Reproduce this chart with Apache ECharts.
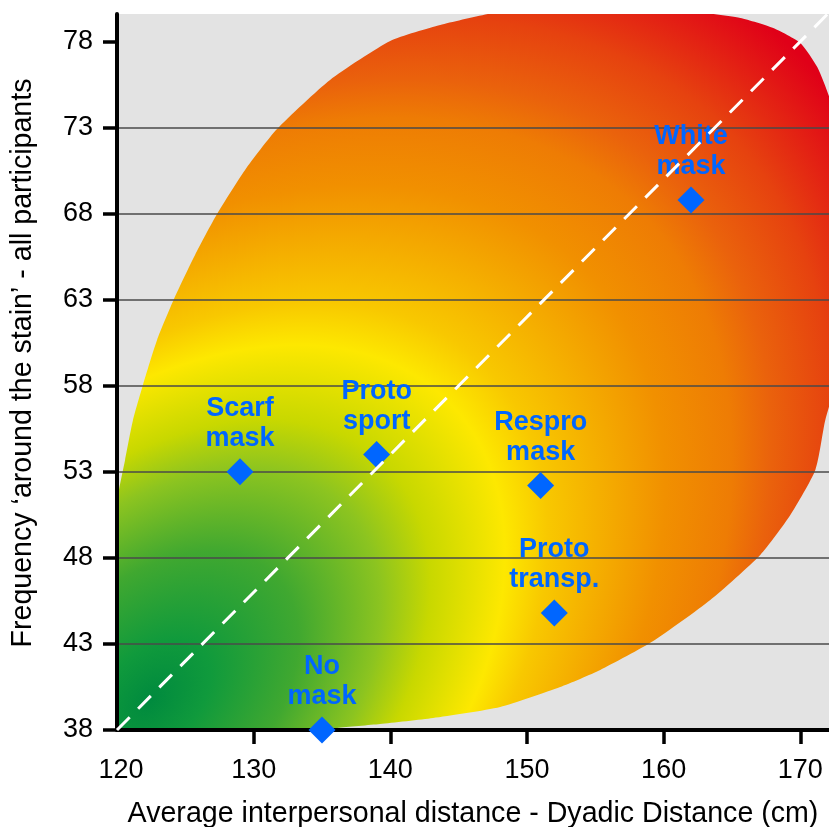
<!DOCTYPE html>
<html>
<head>
<meta charset="utf-8">
<script src="https://cdn.jsdelivr.net/npm/echarts@6/dist/echarts.min.js"></script>
<style>
  html, body { margin: 0; padding: 0; background: #ffffff; }
  #chart { width: 829px; height: 827px; }
</style>
</head>
<body>
<div id="chart"></div>
<script>
// ---- data ----
const categories = ['White\nmask', 'Scarf\nmask', 'Proto\nsport', 'No\nmask', 'Respro\nmask', 'Proto\ntransp.'];
const xValues = [162, 129, 139, 135, 151, 152];
const yValues = [68.8, 53, 54, 38, 52.2, 44.8];

const xTicks = [120, 130, 140, 150, 160, 170];
const xTickMarks = [130, 140, 150, 160, 170];
const yTicks = [38, 43, 48, 53, 58, 63, 68, 73, 78];

// diagonal reference line (data coords)
const diagX = [120, 175];
const diagY = [38, 82];

// background "zone" outline (data coords)
const blobX = [118.02, 118.76, 119.34, 120.00, 120.59, 121.17, 121.90, 122.93, 124.17, 125.71, 127.32, 129.37, 131.71, 135.59, 139.99, 143.65, 147.51, 150.95, 155.34, 159.02, 163.19, 165.61, 168.02, 170.00, 171.24, 172.12, 172.78, 173.15, 173.40, 173.20, 171.83, 171.10, 169.27, 167.07, 163.41, 159.24, 155.36, 152.43, 148.04, 143.13, 139.25, 136.11, 132.66, 126.08];
const blobY = [35.68, 43.23, 47.88, 51.36, 53.69, 56.01, 58.05, 60.66, 63.04, 65.60, 67.98, 70.54, 72.92, 75.77, 78.03, 78.96, 79.66, 80.07, 80.30, 80.42, 79.66, 79.37, 78.79, 77.92, 76.52, 74.78, 72.86, 70.54, 66.5, 60.00, 56.01, 53.11, 50.49, 48.17, 45.55, 43.17, 41.49, 40.50, 39.34, 38.70, 38.35, 38.12, 37.77, 36.84];

// colour field of the zone: elliptical gradient, axis along the diagonal
const gradCenter = [122.42, 39.74];
const gradAxes = [422, 272];          // px, semi-axes of the yellow iso-line
const gradReach = 2.2;                // outer radius in units of the yellow iso-line
const gradStops = [0, 0.077, 0.19, 0.295, 0.359, 0.4545, 0.509, 0.659, 0.745, 0.795, 0.873, 0.986, 1];
const gradColors = ['#008a3e', '#109a3c', '#40a830', '#8cc420', '#c8d800', '#fde800', '#f8c800', '#f19000', '#ee7c04', '#ea620c', '#e6420f', '#e00018', '#e00018'];

const FONT = 'Liberation Sans, Arial, Helvetica, sans-serif';
const BLUE = '#0066ff';

const chart = echarts.init(document.getElementById('chart'), null, { renderer: 'canvas' });

const points = xValues.map((x, i) => ({ value: [x, yValues[i]], name: categories[i] }));

const option = {
  animation: false,
  backgroundColor: '#ffffff',
  grid: {
    left: 117, top: 14, right: 0, bottom: 97,
    containLabel: false,
    outerBoundsMode: 'none',
    show: true, backgroundColor: '#e3e3e3', borderWidth: 0
  },
  xAxis: {
    type: 'value', min: 120, max: 172.1, interval: 10, z: 3,
    name: 'Average interpersonal distance - Dyadic Distance (cm)',
    nameLocation: 'middle', nameGap: 70,
    nameTextStyle: { fontFamily: FONT, fontSize: 28.6, color: '#000' },
    axisLine: { show: true, onZero: false, lineStyle: { color: '#000', width: 4 } },
    axisTick: { show: true, inside: false, length: 14, customValues: xTickMarks, lineStyle: { color: '#000', width: 3.5 } },
    axisLabel: {
      customValues: xTicks, margin: 27, fontFamily: FONT, fontSize: 27, color: '#000',
      formatter: function (v) { return v === xTicks[0] ? '{first|' + v + '}' : String(v); },
      rich: { first: { fontFamily: FONT, fontSize: 27, color: '#000', padding: [0, 0, 0, 8] } }
    },
    splitLine: { show: false }
  },
  yAxis: {
    type: 'value', min: 38, max: 79.6, interval: 5, z: 3,
    name: 'Frequency \u2018around the stain\u2019 - all participants',
    nameLocation: 'middle', nameGap: 79,
    nameTextStyle: { fontFamily: FONT, fontSize: 28.6, color: '#000', padding: [0, 0, 0, 18] },
    axisLine: { show: true, onZero: false, lineStyle: { color: '#000', width: 4 } },
    axisTick: { show: true, inside: false, length: 14, customValues: yTicks, lineStyle: { color: '#000', width: 3.5 } },
    axisLabel: { customValues: yTicks, margin: 24, fontFamily: FONT, fontSize: 27, color: '#000' },
    splitLine: { show: true, showMaxLine: false, lineStyle: { color: '#4a4a4a', width: 1.6 } }
  },
  series: [
    {
      type: 'custom',
      z: 2,
      clip: true,
      silent: true,
      data: [[gradCenter[0], gradCenter[1]]],
      renderItem: function (params, api) {
        if (params.dataIndex !== 0) return;
        const c = api.coord(gradCenter);
        const unit = 100;
        const sx = gradAxes[0] / unit, sy = gradAxes[1] / unit;
        const rot = Math.PI / 4;
        const ct = Math.cos(rot), st = Math.sin(rot);
        const pts = blobX.map((x, i) => {
          const g = api.coord([x, blobY[i]]);
          const dx = g[0] - c[0], dy = g[1] - c[1];
          const u = ct * dx - st * dy;
          const v = st * dx + ct * dy;
          return [c[0] + u / sx, c[1] + v / sy];
        });
        const stops = gradStops.map((o, i) => ({ offset: o, color: gradColors[i] }));
        return {
          type: 'polygon',
          x: 0, y: 0,
          originX: c[0], originY: c[1],
          rotation: rot, scaleX: sx, scaleY: sy,
          shape: { points: pts, smooth: 0.2 },
          style: { fill: new echarts.graphic.RadialGradient(c[0], c[1], unit * gradReach, stops, true) }
        };
      }
    },
    {
      type: 'scatter',
      z: 5,
      clip: false,
      symbol: 'diamond',
      symbolSize: 27,
      itemStyle: { color: BLUE, opacity: 1 },
      data: points,
      label: {
        show: true,
        position: 'top',
        distance: 5,
        formatter: '{b}',
        fontFamily: FONT,
        fontWeight: 'bold',
        fontSize: 27,
        lineHeight: 30,
        color: BLUE,
        opacity: 1,
        align: 'center'
      }
    },
    {
      type: 'line',
      z: 6,
      clip: true,
      silent: true,
      symbol: 'none',
      data: diagX.map((x, i) => [x, diagY[i]]),
      lineStyle: { color: '#ffffff', width: 3, type: [18, 12] }
    }
  ]
};

chart.setOption(option);
</script>
</body>
</html>
